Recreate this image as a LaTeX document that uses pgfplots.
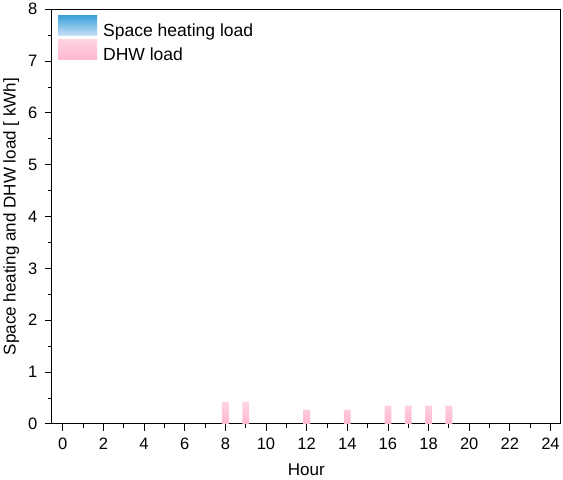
\documentclass[border=0pt]{standalone}
\usepackage{pgfplots}
\pgfplotsset{compat=1.18}
\usepackage{fontspec}
\setmainfont{Liberation Sans}
\definecolor{pinkbot}{HTML}{FFB8D2}
\definecolor{pinktop}{HTML}{FFD4E4}
\definecolor{bluetop}{HTML}{3AA0DA}
\definecolor{bluebot}{HTML}{C8E0F8}
\begin{document}
\begin{tikzpicture}
\begin{axis}[
  scale only axis,
  width=508pt, height=414pt,
  xmin=-0.54, xmax=24.5,
  ymin=0, ymax=8,
  xtick={0,2,...,24},
  minor xtick={1,3,...,23},
  ytick={0,1,...,8},
  minor ytick={0.5,1.5,...,7.5},
  tick align=outside,
  xtick pos=bottom, ytick pos=left,
  major tick length=7pt, minor tick length=4pt,
  xtick style={black, line width=0.8pt},
  ytick style={black, line width=0.8pt},
  axis line style={black, line width=0.9pt},
  tick label style={font=\fontsize{16.5}{18}\selectfont},
  xticklabel style={yshift=-4pt},
  yticklabel style={xshift=-4pt},
  /pgf/number format/assume math mode=true,
  xlabel={Hour},
  ylabel={Space heating and DHW load [ kWh]},
  label style={font=\fontsize{17}{19}\selectfont},
  xlabel style={yshift=-7pt},
  ylabel style={yshift=2pt},
  legend style={draw=none, fill=none, at={(0,1)}, xshift=5pt, yshift=-5pt, anchor=north west,
    font=\fontsize{17.5}{19}\selectfont, row sep=0pt, inner sep=1pt,
    nodes={inner ysep=1pt},
    /tikz/every odd column/.append style={column sep=4pt}},
  legend cell align=left,
  legend image code/.code={\fill[#1] (0pt,-4.5pt) rectangle (39pt,15.5pt);},
]
\addplot[ybar, bar width=6.8pt, bar shift=0pt, draw=none, top color=bluetop, bottom color=bluebot]
  coordinates {(0,0) (1,0) (2,0) (3,0) (4,0) (5,0) (6,0) (7,0) (8,0) (9,0) (10,0) (11,0)
   (12,0) (13,0) (14,0) (15,0) (16,0) (17,0) (18,0) (19,0) (20,0) (21,0) (22,0) (23,0)};
\addlegendentry{Space heating load}
\addplot[ybar, bar width=6.8pt, bar shift=0pt, draw=none, top color=pinktop, bottom color=pinkbot]
  coordinates {(8,0.42) (9,0.43) (12,0.27) (14,0.27) (16,0.35) (17,0.35) (18,0.35) (19,0.35)};
\addlegendentry{DHW load}
\end{axis}
\end{tikzpicture}
\end{document}
